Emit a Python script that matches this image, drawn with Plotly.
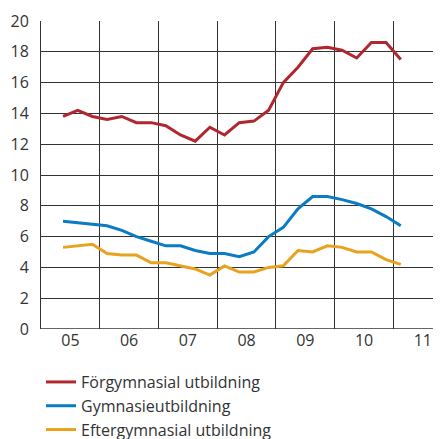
import plotly.graph_objects as go

quarters = [2005.375 + 0.25 * i for i in range(24)]
forgymnasial = [13.8, 14.2, 13.8, 13.6, 13.8, 13.4, 13.4, 13.2, 12.6, 12.2, 13.1, 12.6,
                13.4, 13.5, 14.2, 16.0, 17.0, 18.2, 18.3, 18.1, 17.6, 18.6, 18.6, 17.5]
gymnasie = [7.0, 6.9, 6.8, 6.7, 6.4, 6.0, 5.7, 5.4, 5.4, 5.1, 4.9, 4.9,
            4.7, 5.0, 6.0, 6.6, 7.8, 8.6, 8.6, 8.4, 8.15, 7.8, 7.3, 6.7]
eftergymnasial = [5.3, 5.4, 5.5, 4.9, 4.8, 4.8, 4.3, 4.3, 4.1, 3.9, 3.5, 4.1,
                  3.7, 3.7, 4.0, 4.1, 5.1, 5.0, 5.4, 5.3, 5.0, 5.0, 4.5, 4.2]
series_names = ["Förgymnasial utbildning", "Gymnasieutbildning", "Eftergymnasial utbildning"]
colors = ["#B0272F", "#0A7CC4", "#E8A21E"]
year_labels = ["05", "06", "07", "08", "09", "10", "11"]
year_centers = [2005.5 + i for i in range(7)]
year_bounds = [2006 + i for i in range(6)]
y_ticks = [0, 2, 4, 6, 8, 10, 12, 14, 16, 18, 20]

fig = go.Figure()
for name, vals, c in zip(series_names, [forgymnasial, gymnasie, eftergymnasial], colors):
    fig.add_trace(go.Scatter(x=quarters, y=vals, mode="lines", name=name,
                             line=dict(color=c, width=3)))

font = dict(family="Open Sans, Lato, sans-serif", size=16, color="#333333")
fig.update_layout(
    width=433, height=431,
    margin=dict(l=33, r=0, t=13, b=110, autoexpand=False),
    paper_bgcolor="white", plot_bgcolor="white",
    font=font,
    showlegend=True,
    legend=dict(x=0.0, y=-0.117, xanchor="left", yanchor="top",
                font=dict(family="Open Sans, Lato, sans-serif", size=16, color="#333333"),
                bgcolor="rgba(0,0,0,0)", tracegroupgap=0, itemwidth=30),
    xaxis=dict(range=[2005, 2011.81], tickvals=year_centers, ticktext=year_labels,
               showgrid=False, zeroline=False, ticks="", showline=False, automargin=False,
               minor=dict(tickvals=year_bounds, showgrid=True, gridcolor="#333333", gridwidth=1,
                          ticks=""),
               tickfont=font),
    yaxis=dict(range=[0, 20], tickvals=y_ticks, showgrid=True, gridcolor="#333333", gridwidth=1,
               zeroline=False, showline=True, linecolor="#333333", linewidth=1, automargin=False,
               ticks="", ticklabelstandoff=8, tickfont=font),
)
fig.add_shape(type="line", xref="paper", yref="y", x0=0, x1=1, y0=0, y1=0,
              line=dict(color="#333333", width=1.5))
fig.write_html("out.html")
